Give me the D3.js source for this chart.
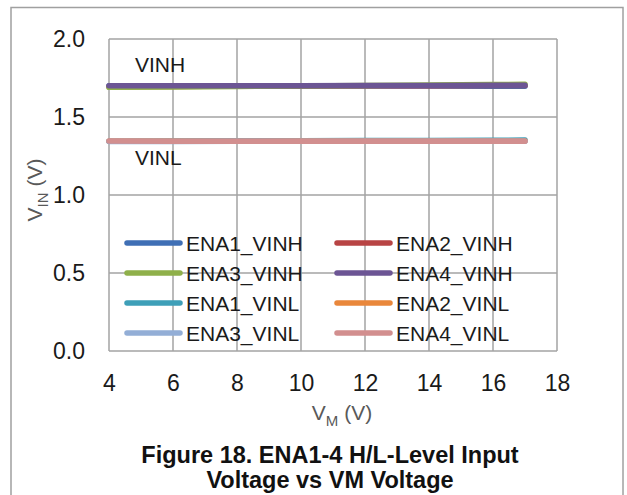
<!DOCTYPE html>
<html>
<head>
<meta charset="utf-8">
<script src="https://cdn.jsdelivr.net/npm/d3@7/dist/d3.min.js"></script>
<style>
  html, body { margin: 0; padding: 0; background: #fff; }
  svg { display: block; font-family: "Liberation Sans", Arial, sans-serif; }
</style>
</head>
<body>
<svg id="chart" width="627" height="495"></svg>
<script>
// Supply voltage sweep (V)
const vm = [4, 6, 8, 10, 12, 14, 16, 17];

// Measured input thresholds per enable pin (V)
const ena1Vinh = [1.700, 1.700, 1.700, 1.700, 1.699, 1.698, 1.697, 1.697];
const ena2Vinh = [1.694, 1.696, 1.698, 1.699, 1.700, 1.701, 1.702, 1.702];
const ena3Vinh = [1.690, 1.693, 1.696, 1.699, 1.702, 1.705, 1.708, 1.710];
const ena4Vinh = [1.700, 1.700, 1.701, 1.701, 1.702, 1.702, 1.703, 1.703];
const ena1Vinl = [1.345, 1.346, 1.347, 1.348, 1.349, 1.350, 1.351, 1.352];
const ena2Vinl = [1.345, 1.345, 1.345, 1.346, 1.346, 1.346, 1.346, 1.346];
const ena3Vinl = [1.343, 1.343, 1.344, 1.344, 1.344, 1.345, 1.345, 1.345];
const ena4Vinl = [1.346, 1.345, 1.345, 1.345, 1.345, 1.345, 1.345, 1.345];

const seriesNames = ["ENA1_VINH", "ENA2_VINH", "ENA3_VINH", "ENA4_VINH",
                     "ENA1_VINL", "ENA2_VINL", "ENA3_VINL", "ENA4_VINL"];
const seriesValues = [ena1Vinh, ena2Vinh, ena3Vinh, ena4Vinh,
                      ena1Vinl, ena2Vinl, ena3Vinl, ena4Vinl];
const seriesColors = ["#3f6fb5", "#b84444", "#8fb04a", "#6c5594",
                      "#3e9fb8", "#e9873b", "#93aed6", "#d28f8f"];

const xTicks = [4, 6, 8, 10, 12, 14, 16, 18];
const yTicks = [0.0, 0.5, 1.0, 1.5, 2.0];

const svg = d3.select("#chart");
const plot = { left: 109, right: 557, top: 39, bottom: 351 };

const x = d3.scaleLinear().domain([4, 18]).range([plot.left, plot.right]);
const y = d3.scaleLinear().domain([0, 2]).range([plot.bottom, plot.top]);

const gridColor = "#a3a3a3";

// Outer frame
svg.append("rect")
  .attr("x", 11).attr("y", 7.5)
  .attr("width", 612).attr("height", 520)
  .attr("fill", "none").attr("stroke", "#a0a0a0").attr("stroke-width", 1.5);

// Gridlines
svg.append("g").selectAll("line").data(xTicks).join("line")
  .attr("x1", d => x(d)).attr("x2", d => x(d))
  .attr("y1", plot.top).attr("y2", plot.bottom)
  .attr("stroke", gridColor).attr("stroke-width", 1.5);
svg.append("g").selectAll("line").data(yTicks).join("line")
  .attr("x1", plot.left).attr("x2", plot.right)
  .attr("y1", d => y(d)).attr("y2", d => y(d))
  .attr("stroke", gridColor).attr("stroke-width", 1.5);

// Axes (labels only; the grid stands in for the axis lines)
const xAxis = svg.append("g")
  .attr("transform", `translate(0,${plot.bottom})`)
  .call(d3.axisBottom(x).tickValues(xTicks).tickSize(0).tickPadding(24).tickFormat(d3.format("d")));
const yAxis = svg.append("g")
  .attr("transform", `translate(${plot.left},0)`)
  .call(d3.axisLeft(y).tickValues(yTicks).tickSize(0).tickPadding(24).tickFormat(d3.format(".1f")));
[xAxis, yAxis].forEach(g => {
  g.select(".domain").remove();
  g.selectAll("text")
    .attr("fill", "#1a1a1a")
    .style("font-size", "23px")
    .style("font-family", "'Liberation Sans', Arial, sans-serif");
});

// Data lines
const line = d3.line().x(d => x(d[0])).y(d => y(d[1]));
svg.append("g").selectAll("path")
  .data(seriesValues.map((vals, i) => ({ name: seriesNames[i], color: seriesColors[i], pts: vm.map((v, j) => [v, vals[j]]) })))
  .join("path")
  .attr("d", d => line(d.pts))
  .attr("fill", "none")
  .attr("stroke", d => d.color)
  .attr("stroke-width", 5.5)
  .attr("stroke-linecap", "round");

// Group labels
svg.append("text").attr("x", 135).attr("y", 72)
  .attr("font-size", 21).attr("fill", "#1a1a1a").text("VINH");
svg.append("text").attr("x", 135).attr("y", 165)
  .attr("font-size", 21).attr("fill", "#1a1a1a").text("VINL");

// Legend: two columns, four rows
const legend = svg.append("g");
const legendItems = legend.selectAll("g")
  .data(seriesNames.map((n, i) => ({ name: n, color: seriesColors[i], col: i % 2, row: Math.floor(i / 2) })))
  .join("g")
  .attr("transform", d => `translate(${d.col === 0 ? 127 : 337},${243 + d.row * 30})`);
legendItems.append("line")
  .attr("x1", 0).attr("x2", 53).attr("y1", 0).attr("y2", 0)
  .attr("stroke", d => d.color).attr("stroke-width", 5.5).attr("stroke-linecap", "round");
legendItems.append("text")
  .attr("x", 59).attr("y", 7.5)
  .attr("font-size", 21).attr("fill", "#1a1a1a")
  .text(d => d.name);

// Axis titles
const xTitle = svg.append("text")
  .attr("x", 342).attr("y", 420)
  .attr("text-anchor", "middle").attr("font-size", 21).attr("fill", "#595959");
xTitle.append("tspan").text("V");
xTitle.append("tspan").attr("font-size", 15).attr("dy", 6).text("M");
xTitle.append("tspan").attr("dy", -6).text(" (V)");

const yTitle = svg.append("text")
  .attr("transform", "translate(42,190) rotate(-90)")
  .attr("text-anchor", "middle").attr("font-size", 21).attr("fill", "#595959");
yTitle.append("tspan").text("V");
yTitle.append("tspan").attr("font-size", 15).attr("dy", 6).text("IN");
yTitle.append("tspan").attr("dy", -6).text(" (V)");

// Caption
const caption = svg.append("text")
  .attr("text-anchor", "middle").attr("font-size", 23.5).attr("font-weight", "bold").attr("fill", "#111");
caption.append("tspan").attr("x", 330).attr("y", 463).text("Figure 18. ENA1-4 H/L-Level Input");
caption.append("tspan").attr("x", 330).attr("y", 488).text("Voltage vs VM Voltage");
</script>
</body>
</html>
